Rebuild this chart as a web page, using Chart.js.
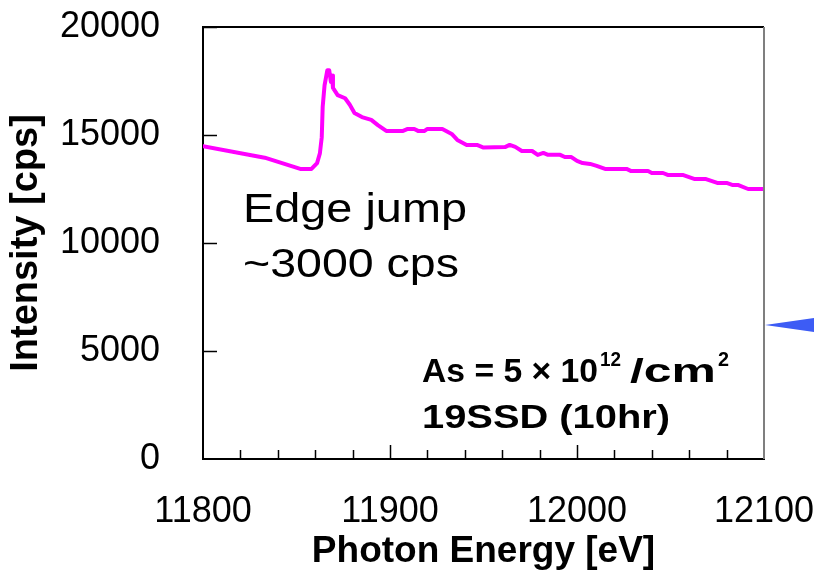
<!DOCTYPE html>
<html>
<head>
<meta charset="utf-8">
<script src="https://cdn.jsdelivr.net/npm/chart.js@4.4.0/dist/chart.umd.min.js"></script>
<style>
    html, body { margin: 0; padding: 0; background: #ffffff; }
    #wrap { width: 814px; height: 574px; }
</style>
</head>
<body>
<div id="wrap"><canvas id="xasChart" width="814" height="574"></canvas></div>
<script>
// Spektar oko As K ivice, ocitano sa slike
const energy = [
    11800, 11833, 11852, 11858, 11861, 11862.5, 11863.5, 11864, 11865, 11866.5,
    11867.5, 11868.4, 11869, 11869.5, 11872, 11876, 11878.5, 11881, 11885, 11890,
    11893.5, 11898, 11907, 11909.5, 11913, 11915, 11918.5, 11920, 11928, 11933,
    11936, 11941, 11946.5, 11950, 11961.5, 11964, 11967, 11970.5, 11976, 11979,
    11982, 11984.5, 11991, 11993.5, 11997, 12000, 12003, 12007, 12010.5, 12015,
    12026.5, 12029, 12038, 12040, 12046, 12048.5, 12056.5, 12063, 12069, 12075,
    12080, 12083, 12086, 12091.5, 12100.5
];
const intensity = [
    14480, 13950, 13430, 13430, 13700, 14150, 14900, 16300, 17300, 18000,
    18000, 17450, 17750, 17180, 16850, 16700, 16400, 16020, 15830, 15700,
    15460, 15190, 15190, 15280, 15280, 15190, 15190, 15280, 15280, 15050,
    14770, 14540, 14540, 14420, 14440, 14540, 14450, 14260, 14260, 14080,
    14170, 14080, 14080, 13980, 13980, 13800, 13700, 13660, 13570, 13430,
    13430, 13330, 13330, 13240, 13240, 13150, 13150, 12960, 12960, 12780,
    12780, 12690, 12690, 12500, 12500
];

const xTickValues = [11800, 11900, 12000, 12100];
const yTickValues = [0, 5000, 10000, 15000, 20000];
const xMinorStep = 20;

const FONT = "'Liberation Sans', Arial, sans-serif";

/**
 * Crta tekst rastegnut na zadatu sirinu
 */
function stretchText(ctx, text, x, y, font, width) {
    ctx.save();
    ctx.font = font;
    const w = ctx.measureText(text).width;
    ctx.translate(x, y);
    ctx.scale(width / w, 1);
    ctx.fillText(text, 0, 0);
    ctx.restore();
}

// okvir, unutrasnje crtice i natpisi
const decorPlugin = {
    id: 'decor',
    afterDatasetsDraw(chart) {
        const { ctx, chartArea: a, scales } = chart;
        ctx.save();
        ctx.lineWidth = 2;

        // gornja i desna ivica
        ctx.strokeStyle = '#000000';
        ctx.beginPath();
        ctx.moveTo(a.left, a.top);
        ctx.lineTo(a.right, a.top);
        ctx.stroke();
        ctx.strokeStyle = '#7f7f7f';
        ctx.beginPath();
        ctx.moveTo(a.right, a.top);
        ctx.lineTo(a.right, a.bottom);
        ctx.stroke();

        // crtice na x osi
        ctx.strokeStyle = '#000000';
        ctx.lineWidth = 1.5;
        for (let v = scales.x.min + xMinorStep; v < scales.x.max; v += xMinorStep) {
            const px = Math.round(scales.x.getPixelForValue(v)) + 0.5;
            const len = v % 100 === 0 ? 14 : 9;
            ctx.beginPath();
            ctx.moveTo(px, a.bottom);
            ctx.lineTo(px, a.bottom - len);
            ctx.stroke();
        }
        // crtice na y osi
        yTickValues.slice(1).forEach(v => {
            const py = Math.round(scales.y.getPixelForValue(v)) + 0.5;
            ctx.beginPath();
            ctx.moveTo(a.left, py);
            ctx.lineTo(a.left + 14, py);
            ctx.stroke();
        });

        // natpisi
        ctx.fillStyle = '#000000';
        ctx.textBaseline = 'alphabetic';
        stretchText(ctx, 'Edge jump', 243, 222, '40px ' + FONT, 224);
        stretchText(ctx, '~3000 cps', 243, 277, '40px ' + FONT, 216);

        stretchText(ctx, 'As = 5 \u00d7 10', 422, 382, 'bold 34px ' + FONT, 176);
        stretchText(ctx, '12', 600, 366, 'bold 20px ' + FONT, 21);
        stretchText(ctx, '/cm', 630, 382, 'bold 34px ' + FONT, 86);
        stretchText(ctx, '2', 718, 366, 'bold 20px ' + FONT, 11);
        stretchText(ctx, '19SSD (10hr)', 422, 428, 'bold 34px ' + FONT, 248);

        // plava strelica desno
        ctx.fillStyle = '#3d5cf5';
        ctx.beginPath();
        ctx.moveTo(a.right + 1, 325);
        ctx.lineTo(814, 318);
        ctx.lineTo(814, 332);
        ctx.closePath();
        ctx.fill();
        ctx.restore();
    }
};

const points = energy.map((e, i) => ({ x: e, y: intensity[i] }));

new Chart(document.getElementById('xasChart'), {
    type: 'line',
    data: {
        datasets: [{
            label: 'As',
            data: points,
            borderColor: '#ff00ff',
            borderWidth: 4,
            borderJoinStyle: 'round',
            borderCapStyle: 'round',
            pointRadius: 0,
            tension: 0,
            fill: false
        }]
    },
    options: {
        responsive: false,
        animation: false,
        devicePixelRatio: 1,
        layout: {
            padding: { top: 27, right: 50, bottom: 0, left: 0 }
        },
        plugins: {
            legend: { display: false },
            tooltip: { enabled: false }
        },
        scales: {
            x: {
                type: 'linear',
                min: 11800,
                max: 12100,
                afterBuildTicks(scale) {
                    scale.ticks = xTickValues.map(v => ({ value: v }));
                },
                afterFit(scale) {
                    scale.height = 115;
                    scale.paddingLeft = 0;
                    scale.paddingRight = 0;
                },
                ticks: {
                    padding: 31,
                    color: '#000000',
                    font: { family: FONT, size: 36 },
                    maxRotation: 0,
                    callback: v => String(v)
                },
                grid: { display: false, drawTicks: false },
                border: { display: true, color: '#000000', width: 2 },
                title: {
                    display: true,
                    text: 'Photon Energy [eV]',
                    color: '#000000',
                    padding: 0,
                    font: { family: FONT, size: 37, weight: 'bold' }
                }
            },
            y: {
                min: 0,
                max: 20000,
                afterBuildTicks(scale) {
                    scale.ticks = yTickValues.map(v => ({ value: v }));
                },
                afterFit(scale) {
                    scale.width = 203;
                    scale.paddingTop = 0;
                    scale.paddingBottom = 0;
                },
                ticks: {
                    padding: 43,
                    color: '#000000',
                    font: { family: FONT, size: 36 },
                    callback: v => String(v)
                },
                grid: { display: false, drawTicks: false },
                border: { display: true, color: '#000000', width: 2 },
                title: {
                    display: true,
                    text: 'Intensity [cps]',
                    color: '#000000',
                    padding: { top: 4, bottom: 0 },
                    font: { family: FONT, size: 38, weight: 'bold' }
                }
            }
        }
    },
    plugins: [decorPlugin]
});
</script>
</body>
</html>
